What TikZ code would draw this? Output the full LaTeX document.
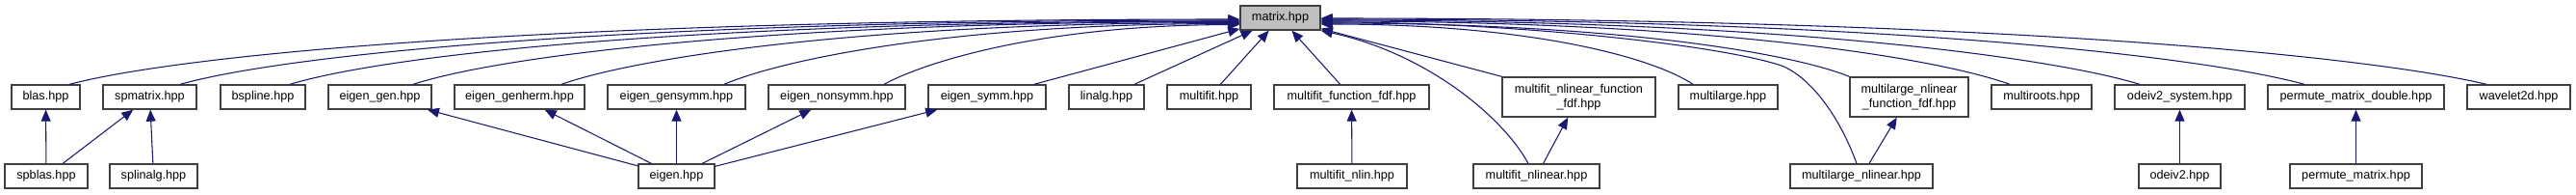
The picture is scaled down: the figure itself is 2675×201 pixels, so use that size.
\documentclass[tikz,border=0pt]{standalone}
\usepackage{fontspec}
\setmainfont{Liberation Sans}
\usetikzlibrary{arrows.meta,calc}
\definecolor{edgeblue}{HTML}{191970}
\definecolor{fileborder}{HTML}{404040}
\definecolor{rootfill}{HTML}{BFBFBF}
\tikzset{
  file/.style={draw=fileborder,line width=1pt,fill=white,text=black,align=center,inner sep=0pt,minimum height=18.75pt,font=\fontsize{9.5}{11.25}\selectfont},
  rootfile/.style={file,fill=rootfill},
  twoline/.style={minimum height=30.75pt},
  boxw/.style={minimum width=#1*0.75pt},
  dep/.style={-{Triangle[length=9pt,width=7.5pt]},line width=0.8pt,draw=edgeblue}
}
\begin{document}
\begin{tikzpicture}[x=0.75pt,y=-0.75pt]
  \useasboundingbox (0,0) rectangle (2675,201);

  \node[rootfile,boxw=83] (matrix) at (1329.5,18.5) {matrix.hpp};

  \node[file,boxw=71] (blas) at (47.5,100.5) {blas.hpp};
  \node[file,boxw=97] (spmatrix) at (155.5,100.5) {spmatrix.hpp};
  \node[file,boxw=88] (bspline) at (273,100.5) {bspline.hpp};
  \node[file,boxw=107] (eigengen) at (394.5,100.5) {eigen\_gen.hpp};
  \node[file,boxw=135] (eigengenherm) at (539.5,100.5) {eigen\_genherm.hpp};
  \node[file,boxw=143] (eigengensymm) at (702.5,100.5) {eigen\_gensymm.hpp};
  \node[file,boxw=142] (eigennonsymm) at (869,100.5) {eigen\_nonsymm.hpp};
  \node[file,boxw=122] (eigensymm) at (1025,100.5) {eigen\_symm.hpp};
  \node[file,boxw=78] (linalg) at (1149,100.5) {linalg.hpp};
  \node[file,boxw=87] (multifit) at (1255.5,100.5) {multifit.hpp};
  \node[file,boxw=161] (mffdf) at (1403.5,100.5) {multifit\_function\_fdf.hpp};
  \node[file,twoline,boxw=159] (mfnlfdf) at (1639.5,100.5) {multifit\_nlinear\_function\\\_fdf.hpp};
  \node[file,boxw=103] (multilarge) at (1794.5,100.5) {multilarge.hpp};
  \node[file,twoline,boxw=123] (mlnlfdf) at (1982.5,100.5) {multilarge\_nlinear\\\_function\_fdf.hpp};
  \node[file,boxw=104] (multiroots) at (2120,100.5) {multiroots.hpp};
  \node[file,boxw=135] (odesys) at (2263.5,100.5) {odeiv2\_system.hpp};
  \node[file,boxw=183] (permdouble) at (2446.5,100.5) {permute\_matrix\_double.hpp};
  \node[file,boxw=107] (wavelet) at (2615.5,100.5) {wavelet2d.hpp};

  \node[file,boxw=86] (spblas) at (48,182.5) {spblas.hpp};
  \node[file,boxw=91] (splinalg) at (159.5,182.5) {splinalg.hpp};
  \node[file,boxw=79] (eigen) at (702.5,182.5) {eigen.hpp};
  \node[file,boxw=114] (mfnlin) at (1404,182.5) {multifit\_nlin.hpp};
  \node[file,boxw=131] (mfnlinear) at (1595.5,182.5) {multifit\_nlinear.hpp};
  \node[file,boxw=148] (mlnlinear) at (1933,182.5) {multilarge\_nlinear.hpp};
  \node[file,boxw=85] (odeiv) at (2263.5,182.5) {odeiv2.hpp};
  \node[file,boxw=137] (permute) at (2446.5,182.5) {permute\_matrix.hpp};

  \draw[dep] ($(blas.north)+(24.5,0)$) .. controls (201,54) and (595,20) .. ($(matrix.west)+(0,1.5)$);
  \draw[dep] ($(spmatrix.north)+(31.5,0)$) .. controls (304,55) and (660,21) .. ($(matrix.west)+(0,2.5)$);
  \draw[dep] ($(bspline.north)+(28,0)$) .. controls (406,56) and (725,22) .. ($(matrix.west)+(0,3.5)$);
  \draw[dep] ($(eigengen.north)+(34.5,0)$) .. controls (520,58) and (798,22.5) .. ($(matrix.west)+(0,4)$);
  \draw[dep] ($(eigengenherm.north)+(43.5,0)$) .. controls (658,61) and (886,23.5) .. ($(matrix.west)+(0,5)$);
  \draw[dep] ($(eigengensymm.north)+(49.5,0)$) .. controls (809,63) and (982,24.5) .. ($(matrix.west)+(0,6)$);
  \draw[dep] ($(eigennonsymm.north)+(49,0)$) .. controls (957,66) and (1077,26) .. ($(matrix.west)+(0,7)$);
  \draw[dep] (eigensymm) -- (matrix);
  \draw[dep] (linalg) -- (matrix);
  \draw[dep] (multifit) -- (matrix);
  \draw[dep] (mffdf) -- (matrix);
  \draw[dep] (mfnlfdf) -- (matrix);
  \draw[dep] ($(mfnlinear.north)+(-8.5,0)$) .. controls (1560,120) and (1480,55) .. (matrix.south east);
  \draw[dep] ($(multilarge.north)+(-36.5,0)$) .. controls (1717,60) and (1592,25) .. ($(matrix.east)+(0,6.5)$);
  \draw[dep] (mlnlfdf.north west) .. controls (1863,56) and (1684,24) .. ($(matrix.east)+(0,5.5)$);
  \draw[dep] ($(mlnlinear.north)+(-5,0)$) .. controls (1910,120) and (1880,80) .. (1850,68)
    .. controls (1780,45) and (1560,23) .. ($(matrix.east)+(0,4.5)$);
  \draw[dep] ($(multiroots.north)+(-33,0)$) .. controls (2011,60) and (1779,22) .. ($(matrix.east)+(0,3.5)$);
  \draw[dep] ($(odesys.north)+(-41.5,0)$) .. controls (2132,60) and (1856,21) .. ($(matrix.east)+(0,2.5)$);
  \draw[dep] ($(permdouble.north)+(-53.5,0)$) .. controls (2285,58) and (1954,20) .. ($(matrix.east)+(0,1.5)$);
  \draw[dep] ($(wavelet.north)+(-33.5,0)$) .. controls (2454,57) and (2061,19) .. ($(matrix.east)+(0,0.5)$);

  \draw[dep] (spblas) -- (blas);
  \draw[dep] (spblas) -- (spmatrix);
  \draw[dep] (splinalg) -- (spmatrix);
  \draw[dep] (eigen) -- (eigengen);
  \draw[dep] (eigen) -- (eigengenherm);
  \draw[dep] (eigen) -- (eigengensymm);
  \draw[dep] (eigen) -- (eigennonsymm);
  \draw[dep] (eigen) -- (eigensymm);
  \draw[dep] (mfnlin) -- (mffdf);
  \draw[dep] (mfnlinear) -- (mfnlfdf);
  \draw[dep] (mlnlinear) -- (mlnlfdf);
  \draw[dep] (odeiv) -- (odesys);
  \draw[dep] (permute) -- (permdouble);

\end{tikzpicture}
\end{document}
